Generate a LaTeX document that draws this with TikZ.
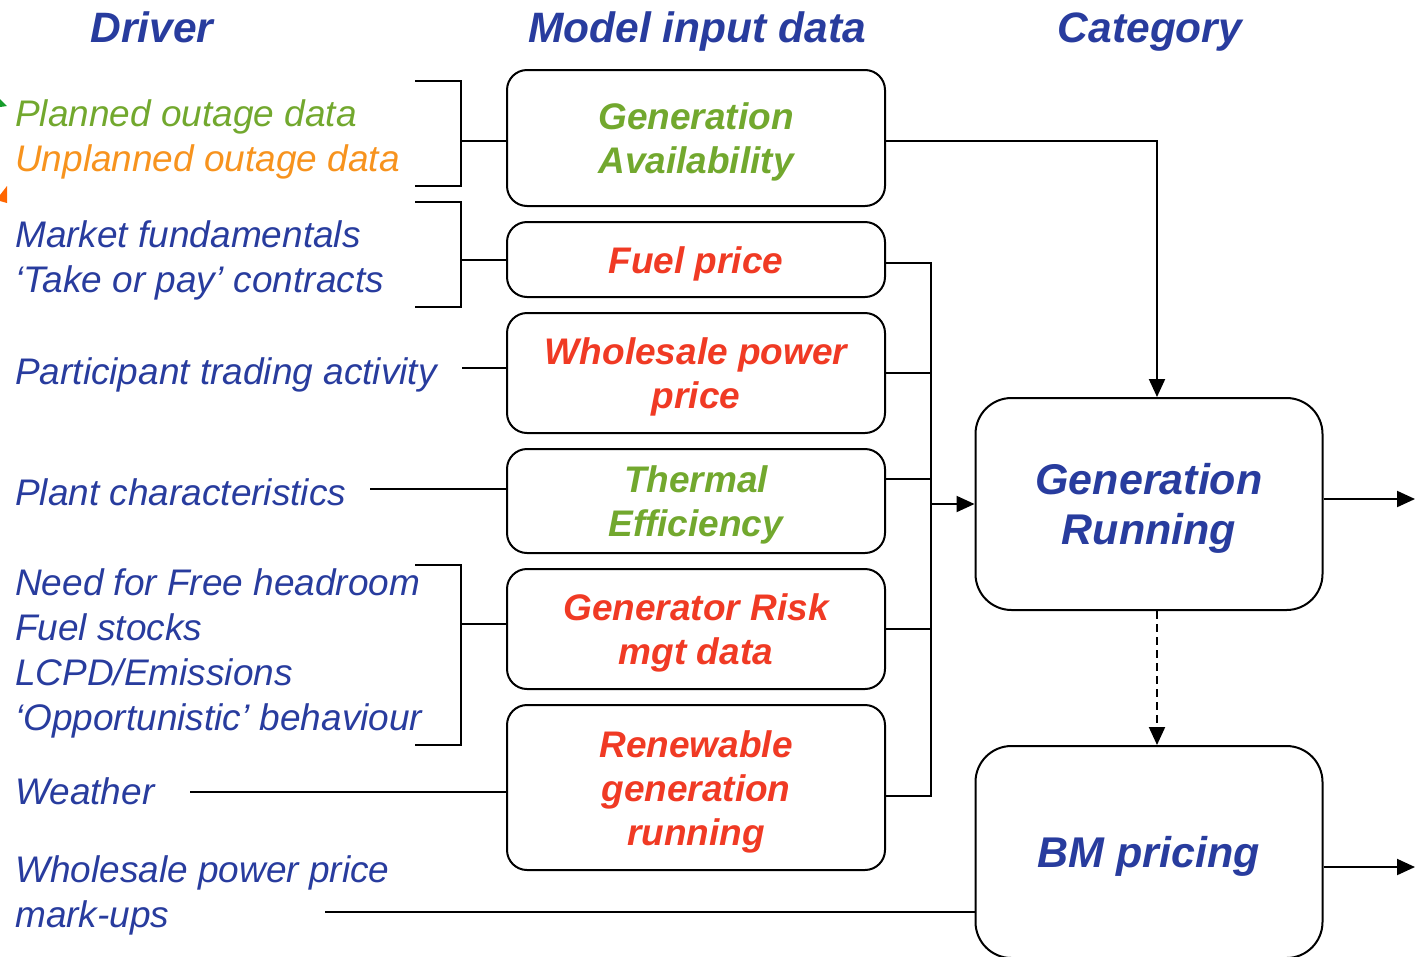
\documentclass[tikz,border=0pt]{standalone}
\usepackage{fontspec}
\setmainfont{Liberation Sans}
\usetikzlibrary{arrows.meta, positioning}
\definecolor{drvblue}{RGB}{40,60,158}
\definecolor{avgreen}{RGB}{114,168,46}
\definecolor{unorange}{RGB}{247,147,30}
\definecolor{inred}{RGB}{240,58,36}
\definecolor{tipgreen}{RGB}{22,156,42}
\definecolor{tiporange}{RGB}{255,102,0}
\newcommand{\topstrut}{\rule{0pt}{0.95em}}
\tikzset{%
    insty/.style={
        rounded corners=20pt,
        draw,
        line width=2pt,
        align=center,
        inner sep=0pt,
        minimum width=378pt,
        font=\fontsize{37}{44}\selectfont\bfseries\itshape,
    },
    catsty/.style={
        insty,
        rounded corners=36pt,
        minimum width=347pt,
        minimum height=212pt,
        text=drvblue,
        font=\fontsize{43}{50}\selectfont\bfseries\itshape,
    },
    drvsty/.style={
        anchor=base west,
        inner sep=0pt,
        align=left,
        text=drvblue,
        font=\fontsize{37}{45}\selectfont\itshape,
    },
    hdsty/.style={
        anchor=base,
        inner sep=0pt,
        text=drvblue,
        font=\fontsize{42.5}{50}\selectfont\bfseries\itshape,
    },
    linesty/.style={line width=2pt},
    arrsty/.style={linesty, -{Triangle[length=18pt,width=16pt]}},
}
\begin{document}
\begin{tikzpicture}[x=1pt,y=-1pt]
\useasboundingbox (0,0) rectangle (1420,956);

% headings
\node (hdrv) [hdsty] at (152,42) {Driver};
\node (hdin) [hdsty] at (697,42) {Model input data};
\node (hdcat) [hdsty] at (1150,42) {Category};

% model input data
\node (avail) [insty,minimum height=136pt,text=avgreen] at (696,138) {\topstrut Generation\\Availability};
\node (fuel) [insty,minimum height=75pt,text=inred,below=14pt of avail] {\topstrut Fuel price};
\node (whole) [insty,minimum height=120pt,text=inred,below=14pt of fuel] {\topstrut Wholesale power\\price};
\node (therm) [insty,minimum height=104pt,text=avgreen,below=14pt of whole] {\topstrut Thermal\\Efficiency};
\node (risk) [insty,minimum height=120pt,text=inred,below=14pt of therm] {\topstrut Generator Risk\\mgt data};
\node (renew) [insty,minimum height=165pt,text=inred,below=14pt of risk] {\topstrut Renewable\\generation\\running};

% categories
\node (genrun) [catsty] at (1149,504) {\topstrut Generation\\Running};
\node (bm) [catsty,below=134pt of genrun] {\topstrut BM pricing};

% drivers (multi-line ones sit on their last line)
\node (plan) [drvsty,text=avgreen] at (15,126) {Planned outage data};
\node (unplan) [drvsty,text=unorange] at (15,171) {Unplanned outage data};
\node (mkt) [drvsty] at (15,292) {Market fundamentals\\`Take or pay' contracts};
\node (trade) [drvsty] at (15,384) {Participant trading activity};
\node (plant) [drvsty] at (15,505) {Plant characteristics};
\node (head) [drvsty] at (15,730) {Need for Free headroom\\Fuel stocks\\LCPD/Emissions\\`Opportunistic' behaviour};
\node (weather) [drvsty] at (15,804) {Weather};
\node (markup) [drvsty] at (15,927) {Wholesale power price\\mark-ups};

% cut-off tips at the left edge
\fill[tipgreen] (0,99) -- (7,106) -- (0,107) -- cycle;
\fill[tiporange] (7,186) -- (7,203) -- (0,201) -- (0,195) -- cycle;

% brackets
\draw[linesty] (415,81) -- (461,81) -- (461,186) -- (415,186);
\draw[linesty] (415,202) -- (461,202) -- (461,307) -- (415,307);
\draw[linesty] (415,565) -- (461,565) -- (461,745) -- (415,745);
\coordinate (brA) at (461,0);
\draw[linesty] ([yshift=-3pt]avail.west) -- ([yshift=-3pt]avail.west -| brA);
\draw[linesty] (fuel.west) -- (fuel.west -| brA);
\draw[linesty] ([yshift=5pt]risk.west) -- ([yshift=5pt]risk.west -| brA);

% single drivers
\coordinate (trade0) at (462,368);
\coordinate (plant0) at (370,489);
\coordinate (weather0) at (190,792);
\coordinate (markup0) at (325,912);
\draw[linesty] (trade0) -- (trade0 -| whole.west);
\draw[linesty] (plant0) -- (plant0 -| therm.west);
\draw[linesty] (weather0) -- (weather0 -| renew.west);
\draw[linesty] (markup0) -- (markup0 -| bm.west);

% bus into generation running
\coordinate (bus) at (931,504);
\draw[linesty] ([yshift=-3pt]fuel.east) -- ([yshift=-3pt]fuel.east -| bus) -- ([yshift=-8pt]renew.east -| bus) -- ([yshift=-8pt]renew.east);
\draw[linesty] (whole.east) -- (whole.east -| bus);
\draw[linesty] ([yshift=22pt]therm.east) -- ([yshift=22pt]therm.east -| bus);
\draw[linesty] (risk.east) -- (risk.east -| bus);
\draw[arrsty] (bus) -- (genrun.west);

% availability and category links
\draw[arrsty] ([yshift=-3pt]avail.east) -| ([xshift=8pt]genrun.north);
\draw[arrsty,dash pattern=on 8pt off 5pt] ([xshift=8pt]genrun.south) -- ([xshift=8pt]bm.north);
\coordinate (outx) at (1415,0);
\draw[arrsty] ([yshift=5pt]genrun.east) -- ([yshift=5pt]genrun.east -| outx);
\draw[arrsty] ([yshift=-15pt]bm.east) -- ([yshift=-15pt]bm.east -| outx);

\end{tikzpicture}
\end{document}
